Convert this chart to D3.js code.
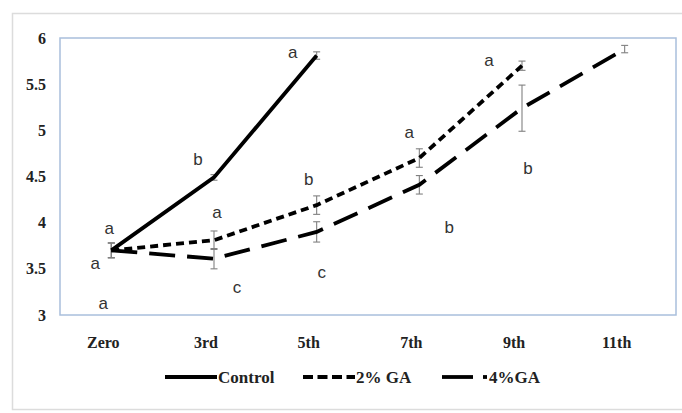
<!DOCTYPE html>
<html><head><meta charset="utf-8">
<script src="https://cdn.jsdelivr.net/npm/d3@7"></script>
<style>body{margin:0;background:#fff;}svg{display:block;}</style>
</head><body>
<svg id="c" width="682" height="413"></svg>
<script>
const categories = ["Zero","3rd","5th","7th","9th","11th"];
const yTicks = [3,3.5,4,4.5,5,5.5,6];
const seriesNames = ["Control","2% GA","4%GA"];
const controlValues = [3.70,4.49,5.81,null,null,null];
const ga2Values     = [3.70,3.81,4.19,4.70,5.70,null];
const ga4Values     = [3.70,3.61,3.90,4.41,5.24,5.88];
const controlErr = [0.08,0.03,0.04,null,null,null];
const ga2Err     = [0.08,0.10,0.10,0.10,0.05,null];
const ga4Err     = [0.08,0.11,0.11,0.10,0.25,0.04];
const controlLetters = ["a","b","a",null,null,null];
const ga2Letters     = ["a","a","b","a","a",null];
const ga4Letters     = ["a","c","c","b","b",null];

// label offsets (pixels) relative to the point
const letterOffsets = [
  [[-2,-22],[-16,-18],[-24,-3],null,null,null],
  [[-16,13],[3,-28],[-8,-26],[-10,-26],[-33,-5],null],
  [[-8,53],[23,29],[5,41],[30,43],[6,60],null]
];

const svg = d3.select("#c");
const L=60, R=676, T=38, B=315;
const x = d3.scaleBand().domain(categories).range([L,R]).padding(0);
const y = d3.scaleLinear().domain([3,6]).range([B,T]);
const cx = c => x(c)+x.bandwidth()/2;

// outer border
svg.append("rect").attr("x",12.5).attr("y",13.5).attr("width",690).attr("height",396)
  .attr("fill","none").attr("stroke","#dcdcdc").attr("stroke-width",1.5);

// plot frame
svg.append("rect").attr("x",L).attr("y",T).attr("width",R-L).attr("height",B-T)
  .attr("fill","none").attr("stroke","#a9bfdc").attr("stroke-width",1.5);

// y tick labels
svg.append("g").selectAll("text").data(yTicks).join("text")
  .attr("x",46).attr("y",d=>y(d)).attr("text-anchor","end").attr("dominant-baseline","central")
  .style("font-family","Liberation Serif, serif").style("font-weight","bold").style("font-size","16px")
  .attr("fill","#222").text(d=>d);

// x tick labels
svg.append("g").selectAll("text").data(categories).join("text")
  .attr("x",d=>cx(d)-8).attr("y",342).attr("text-anchor","middle").attr("dominant-baseline","central")
  .style("font-family","Liberation Serif, serif").style("font-weight","bold").style("font-size","16px")
  .attr("fill","#222").text(d=>d);

const series = [
  {vals:controlValues, err:controlErr, letters:controlLetters, dash:null},
  {vals:ga2Values, err:ga2Err, letters:ga2Letters, dash:"8,5"},
  {vals:ga4Values, err:ga4Err, letters:ga4Letters, dash:"26,12"}
];

// error bars
const eg = svg.append("g").attr("stroke","#808080").attr("stroke-width",1.1);
series.forEach(s=>{
  categories.forEach((c,i)=>{
    if(s.vals[i]==null) return;
    const e=s.err[i], v=s.vals[i];
    eg.append("line").attr("x1",cx(c)).attr("x2",cx(c)).attr("y1",y(v+e)).attr("y2",y(v-e));
    eg.append("line").attr("x1",cx(c)-3.5).attr("x2",cx(c)+3.5).attr("y1",y(v+e)).attr("y2",y(v+e));
    eg.append("line").attr("x1",cx(c)-3.5).attr("x2",cx(c)+3.5).attr("y1",y(v-e)).attr("y2",y(v-e));
  });
});

// lines
const line = d3.line().defined(d=>d.v!=null).x(d=>cx(d.c)).y(d=>y(d.v));
series.forEach(s=>{
  const pts = categories.map((c,i)=>({c, v:s.vals[i]}));
  const p = svg.append("path").datum(pts).attr("d",line).attr("fill","none")
    .attr("stroke","#000").attr("stroke-width",3.8);
  if(s.dash) p.attr("stroke-dasharray",s.dash);
});

// letters
series.forEach((s,si)=>{
  categories.forEach((c,i)=>{
    if(!s.letters[i]) return;
    const o = letterOffsets[si][i];
    svg.append("text").attr("x",cx(c)+o[0]).attr("y",y(s.vals[i])+o[1])
      .attr("text-anchor","middle").attr("dominant-baseline","central")
      .style("font-family","Liberation Sans, Arial, sans-serif").style("font-size","17px")
      .attr("fill","#333").text(s.letters[i]);
  });
});

// legend
const lg = svg.append("g").attr("transform","translate(0,377)");
lg.append("line").attr("x1",165).attr("x2",217).attr("y1",0).attr("y2",0).attr("stroke","#000").attr("stroke-width",3.8);
lg.append("line").attr("x1",303).attr("x2",355).attr("y1",0).attr("y2",0).attr("stroke","#000").attr("stroke-width",3.8).attr("stroke-dasharray","10,4.5");
lg.append("line").attr("x1",442).attr("x2",473).attr("y1",0).attr("y2",0).attr("stroke","#000").attr("stroke-width",3.8);
lg.append("line").attr("x1",483).attr("x2",487).attr("y1",0).attr("y2",0).attr("stroke","#000").attr("stroke-width",3.8);
const legText = [[218,seriesNames[0]],[356,seriesNames[1]],[489,seriesNames[2]]];
lg.selectAll("text.l").data(legText).join("text").attr("x",d=>d[0]).attr("y",0)
  .attr("dominant-baseline","central")
  .style("font-family","Liberation Serif, serif").style("font-weight","bold").style("font-size","17px")
  .attr("fill","#222").text(d=>d[1]);
</script>
</body></html>
